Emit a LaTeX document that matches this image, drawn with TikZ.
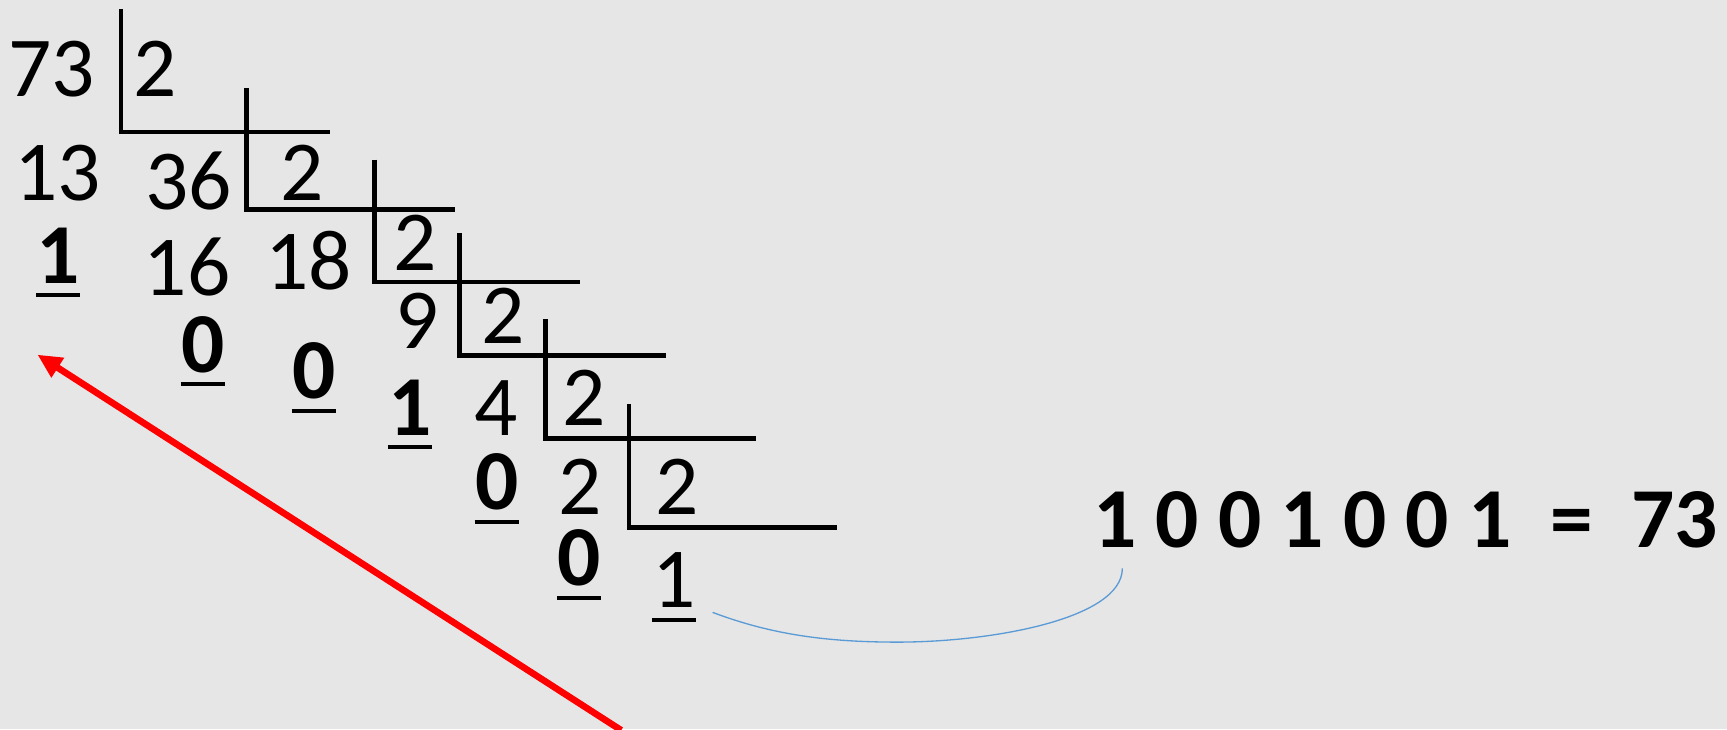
\documentclass[tikz,border=0pt]{standalone}
\usepackage{fontspec}
\setmainfont{Carlito}
\usetikzlibrary{arrows.meta,calc}
\definecolor{paper}{RGB}{230,230,230}
\definecolor{curveblue}{RGB}{91,155,213}
\begin{document}
\begin{tikzpicture}[x=0.5pt,y=-0.5pt,
  num/.style={anchor=base,inner sep=0pt,font=\fontsize{38.75}{46}\selectfont},
  bnum/.style={num,font=\fontsize{38.75}{46}\selectfont\bfseries},
  ul/.style={append after command={([yshift=-5.5pt]\tikzlastnode.base west) edge[draw=black,line width=1.9pt] ([yshift=-5.5pt]\tikzlastnode.base east)}},
  divbar/.style={draw=black,line width=2.1pt},
  pointer/.style={draw=red,line width=3pt,-{Triangle[length=11pt,width=10pt]}},
  link/.style={draw=curveblue,line width=0.6pt}
]
% page
\useasboundingbox (0,0) rectangle (1568,662);
\fill[paper] (0,0) rectangle (1568,662);

% division brackets: vertical bar down, then the rule to the right
\draw[divbar] (110,8)   |- (300,120);
\draw[divbar] (224,80)  |- (413,190);
\draw[divbar] (340,145) |- (527,256);
\draw[divbar] (417,212) |- (605,323);
\draw[divbar] (495,290) |- (686,398);
\draw[divbar] (571,367) |- (760,479);

% step 1: 73 / 2
\node[num] (n73) at (47,88) {73};
\node[num] (d1)  at (141,88) {2};
\node[num] (n13) at (52,182) {13};
\node[bnum,ul] (r1) at (53,257) {1};
% step 2: 36 / 2
\node[num] (n36) at (171,190) {36};
\node[num] (d2)  at (274,182) {2};
\node[num] (n16) at (170,268) {16};
\node[bnum,ul] (r2) at (184,338) {0};
% step 3: 18 / 2
\node[num] (n18) at (280,263) {18};
\node[num] (d3)  at (377,246) {2};
\node[bnum,ul] (r3) at (285,362) {0};
% step 4: 9 / 2
\node[num] (n9)  at (379,316) {9};
\node[num] (d4)  at (457,312) {2};
\node[bnum,ul] (r4) at (372,395) {1};
% step 5: 4 / 2
\node[num] (n4)  at (450,395) {4};
\node[num] (d5)  at (530,386) {2};
\node[bnum,ul] (r5) at (451,463) {0};
% step 6: 2 / 2
\node[num] (n2)  at (527,467) {2};
\node[num] (d6)  at (615,467) {2};
\node[bnum,ul] (r6) at (526,532) {0};
\node[num,ul] (q6) at (612,552) {1};

% result read from the last quotient upwards
\node[bnum,anchor=base west] (res) at (992,497) {1 0 0 1 0 0 1\ \ =\ \ 73};

% link from the last quotient to the result
\coordinate (ls) at (647,556);
\coordinate (lm) at (815,583);
\coordinate (le) at (1019,516);
\draw[link] (ls) .. controls (700,576) and (750,583) .. (lm)
                 .. controls (900,583) and (1019,562) .. (le);

% reading direction of the remainders
\coordinate (ps) at (564,663);
\coordinate (pe) at (34,322);
\draw[pointer] (ps) -- (pe);
\end{tikzpicture}
\end{document}
